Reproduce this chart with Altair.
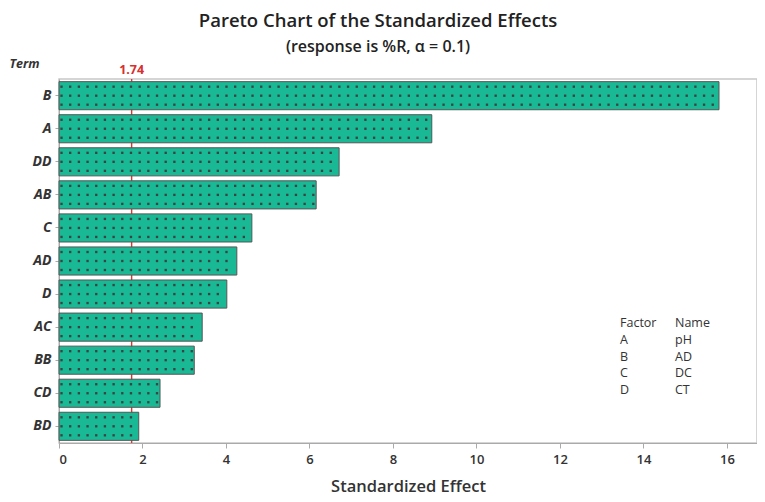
import altair as alt
import pandas as pd

terms = ["B", "A", "DD", "AB", "C", "AD", "D", "AC", "BB", "CD", "BD"]
effects = [15.81, 8.93, 6.71, 6.16, 4.62, 4.26, 4.02, 3.43, 3.24, 2.42, 1.91]
ref_value = 1.74
ref_label = "1.74"
factors = ["A", "B", "C", "D"]
names = ["pH", "AD", "DC", "CT"]
x_ticks = [0, 2, 4, 6, 8, 10, 12, 14, 16]

FONT = "Open Sans"
TEXT = "#333333"

df = pd.DataFrame({"Term": terms, "Effect": effects})
ref_df = pd.DataFrame({"v": [ref_value], "lab": [ref_label]})
leg_df = pd.DataFrame({
    "col1": ["\n".join(["Factor"] + factors)],
    "col2": ["\n".join(["Name"] + names)],
})

xscale = alt.Scale(domain=[0, 16.72], nice=False, zero=True)
yscale = alt.Scale(domain=terms, paddingInner=0.15, paddingOuter=0.08)

x_enc = alt.X(
    "Effect:Q", scale=xscale,
    axis=alt.Axis(values=x_ticks, grid=False, title="Standardized Effect",
                  titleFontSize=16.5, titleFont=FONT, titleFontWeight=600,
                  titleColor=TEXT, titlePadding=12, labelFontSize=13,
                  labelFontWeight=600,
                  labelFont=FONT, labelColor=TEXT, tickColor="#aaaaaa",
                  domainColor="#aaaaaa", tickSize=5, labelPadding=5),
)
y_enc = alt.Y(
    "Term:N", scale=yscale, sort=terms,
    axis=alt.Axis(title="Term", titleAngle=0, titleX=-35, titleY=-16,
                  titleAlign="center", titleBaseline="middle",
                  titleFontStyle="italic", titleFontWeight="bold",
                  titleFontSize=12.5, titleFont=FONT, titleColor=TEXT,
                  labelFontStyle="italic", labelFontWeight="bold",
                  labelFontSize=14, labelFont=FONT, labelColor=TEXT,
                  tickColor="#aaaaaa", domainColor="#aaaaaa", tickSize=4,
                  labelPadding=4),
)

rule = alt.Chart(ref_df).mark_rule(
    color="#e8312f", strokeWidth=1.4
).encode(x=alt.X("v:Q", scale=xscale))

bars = alt.Chart(df).mark_bar(
    color="#1ab995", stroke="#555555", strokeWidth=1
).encode(x=x_enc, y=y_enc)

dot_layers = []
for off in [-9, 0, 9]:
    dots = alt.Chart(df).transform_calculate(
        xs="sequence(0.06, datum.Effect - 0.05, 0.208)"
    ).transform_flatten(["xs"]).mark_square(
        size=5.5, color="#3d3d3d", opacity=0.95, yOffset=off
    ).encode(
        x=alt.X("xs:Q", scale=xscale),
        y=alt.Y("Term:N", scale=yscale, sort=terms),
    )
    dot_layers.append(dots)

rule_lab = alt.Chart(ref_df).mark_text(
    color="#d63030", fontSize=12.5, font=FONT, fontWeight="bold",
    baseline="middle", align="center"
).encode(x=alt.X("v:Q", scale=xscale), y=alt.value(-9), text="lab:N")

leg1 = alt.Chart(leg_df).mark_text(
    lineBreak="\n", lineHeight=16.8, fontSize=12.5, font=FONT, color=TEXT,
    align="left", baseline="top"
).encode(x=alt.value(561), y=alt.value(238), text="col1:N")
leg2 = alt.Chart(leg_df).mark_text(
    lineBreak="\n", lineHeight=16.8, fontSize=12.5, font=FONT, color=TEXT,
    align="left", baseline="top"
).encode(x=alt.value(616), y=alt.value(238), text="col2:N")

chart = alt.layer(rule, bars, *dot_layers, rule_lab, leg1, leg2).properties(
    width=698, height=364,
    title=alt.TitleParams(
        text="Pareto Chart of the Standardized Effects",
        subtitle="(response is %R, α = 0.1)",
        font=FONT, fontSize=18.5, fontWeight=600, color="#222222",
        subtitleFont=FONT, subtitleFontSize=16, subtitleFontWeight=600,
        subtitleColor="#222222",
        subtitlePadding=9, anchor="middle", dx=-30, offset=2,
    ),
    autosize=alt.AutoSizeParams(type="none"),
    padding={"left": 51, "top": 71, "right": 0, "bottom": 60},
).configure_view(stroke="#c8c8c8", strokeWidth=1.5)

chart.save("out.html", embed_options={"renderer": "svg", "actions": False})
